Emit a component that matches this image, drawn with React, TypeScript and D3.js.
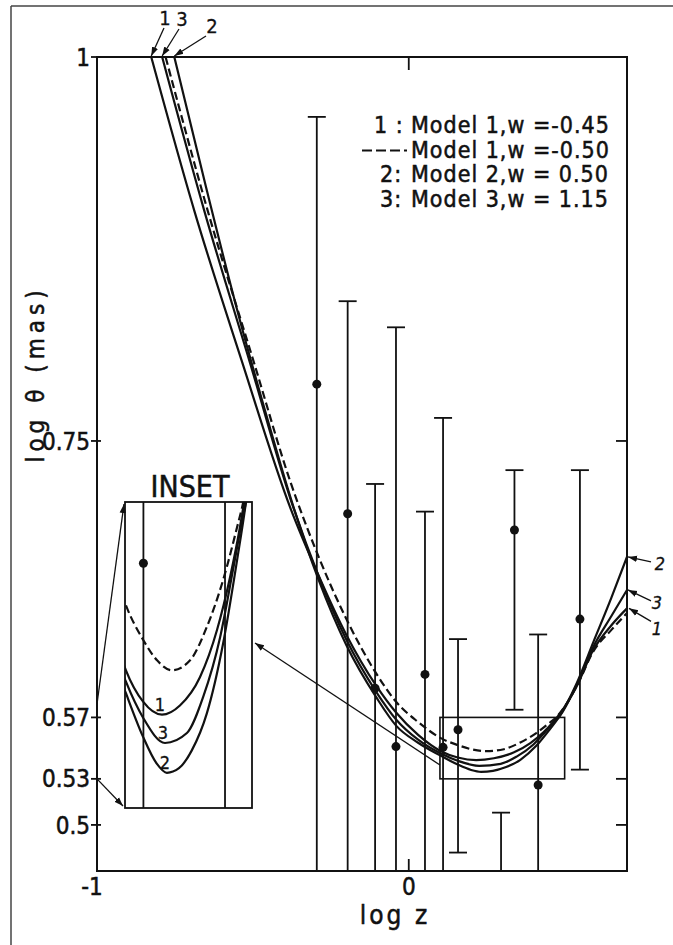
import * as d3 from 'd3';

// [log z, log theta]
const curveM1a = [ // 1: Model 1, w = -0.45
  [-0.826, 1.0], [-0.688, 0.9], [-0.537, 0.803], [-0.379, 0.706], [-0.29, 0.6628],
  [-0.2, 0.6237], [-0.104, 0.5905], [-0.04, 0.573], [0.03, 0.5586], [0.103, 0.548],
  [0.157, 0.5439], [0.2165, 0.5422], [0.273, 0.5434], [0.336, 0.5471], [0.39, 0.5533],
  [0.431, 0.5602], [0.462, 0.5667], [0.475, 0.5699], [0.538, 0.59], [0.592, 0.614],
  [0.65, 0.63], [0.7, 0.641],
];
const curveM1b = [ // dashed: Model 1, w = -0.50
  [-0.78, 1.0], [-0.645, 0.9], [-0.495, 0.8], [-0.379, 0.723], [-0.29, 0.675],
  [-0.2, 0.634], [-0.104, 0.5985], [-0.04, 0.58], [0.03, 0.567], [0.103, 0.5565],
  [0.157, 0.552], [0.201, 0.5493], [0.248, 0.548], [0.305, 0.5493], [0.358, 0.5537],
  [0.409, 0.5598], [0.453, 0.5667], [0.472, 0.5699], [0.538, 0.59], [0.592, 0.613],
  [0.65, 0.627], [0.7, 0.638],
];
const curveM2 = [ // 2: Model 2, w = 0.50
  [-0.752, 1.0], [-0.65, 0.915], [-0.55, 0.835], [-0.45, 0.762], [-0.379, 0.713],
  [-0.29, 0.66], [-0.2, 0.617], [-0.104, 0.583], [-0.04, 0.5645], [0.03, 0.5535],
  [0.103, 0.545], [0.157, 0.5393], [0.2, 0.5358], [0.232, 0.5346], [0.27, 0.5352],
  [0.31, 0.5375], [0.358, 0.5424], [0.409, 0.5515], [0.453, 0.5624], [0.481, 0.57],
  [0.538, 0.592], [0.592, 0.619], [0.65, 0.648], [0.7, 0.6745],
];
const curveM3 = [ // 3: Model 3, w = 1.15
  [-0.791, 1.0], [-0.656, 0.9], [-0.508, 0.8], [-0.379, 0.712], [-0.29, 0.6625],
  [-0.2, 0.6205], [-0.104, 0.5865], [-0.04, 0.5685], [0.03, 0.5555], [0.103, 0.5465],
  [0.157, 0.5418], [0.226, 0.5385], [0.295, 0.5398], [0.346, 0.5445], [0.4, 0.5524],
  [0.44, 0.5611], [0.469, 0.5676], [0.481, 0.57], [0.538, 0.591], [0.592, 0.616],
  [0.65, 0.636], [0.7, 0.653],
];

// error bars (null = beyond the frame)
const barZ = [-0.295, -0.196, -0.108, -0.041, 0.052, 0.11, 0.158, 0.296, 0.339, 0.415, 0.549];
const barHi = [0.961, 0.841, 0.722, 0.824, 0.704, 0.765, 0.621, 0.508, 0.731, 0.624, 0.731];
const barMid = [0.787, 0.7026, 0.589, 0.551, 0.598, 0.5505, 0.562, null, 0.692, 0.526, 0.634];
const barLo = [null, null, null, null, null, null, 0.482, null, 0.575, null, 0.536];

const yTicks = [1, 0.75, 0.57, 0.53, 0.5];
const yTickLabels = ['1', '0.75', '0.57', '0.53', '0.5'];
const rightTicks = [0.75, 0.57, 0.53, 0.5];
const xTicks = [-1, 0];
const xTickLabels = ['-1', '0'];

const legendKeys = ['1 :', '', '2:', '3:'];
const legendLabels = ['Model 1,w =-0.45', 'Model 1,w =-0.50', 'Model 2,w = 0.50', 'Model 3,w = 1.15'];

const FONT = "'DejaVu Sans Condensed', 'DejaVu Sans', sans-serif";
const INK = '#111';

export default function App() {
  const x = d3.scaleLinear().domain([-1, 0.7]).range([97, 627]);
  const y = d3.scaleLinear().domain([0.47, 1]).range([871, 57]);
  const [x0, x1] = x.range();
  const [y0, y1] = y.range();

  // inset: zoom of the box [0.10, 0.50] x [0.53, 0.57]
  const insetZ = [0.1, 0.5];
  const insetV = [0.53, 0.57];
  const ix = d3.scaleLinear().domain(insetZ).range([125, 252]);
  const iy = d3.scaleLinear().domain(insetV).range([808, 502]);

  const line = d3.line<number[]>().x(d => x(d[0])).y(d => y(d[1])).curve(d3.curveMonotoneX);
  const iline = d3.line<number[]>().x(d => ix(d[0])).y(d => iy(d[1])).curve(d3.curveMonotoneX);

  const series = [
    { data: curveM1a, dash: undefined },
    { data: curveM3, dash: undefined },
    { data: curveM2, dash: undefined },
    { data: curveM1b, dash: '8 4' },
  ];

  const minOf = (d: number[][]) => d.reduce((a, b) => (b[1] < a[1] ? b : a));
  const insetLabels = [
    { t: '1', p: minOf(curveM1a) },
    { t: '3', p: minOf(curveM3) },
    { t: '2', p: minOf(curveM2) },
  ];

  const cap = 9;
  const endY = (d: number[][]) => y(d[d.length - 1][1]);
  const txt = { stroke: INK, strokeWidth: 0.5, fontStretch: 'condensed' as const };

  return (
    <svg width={673} height={945} style={{ position: 'absolute', left: 0, top: 0, background: '#fff' }}
      fontFamily={FONT} fill={INK}>
      <defs>
        <clipPath id="plotClip"><rect x={x0} y={y1} width={x1 - x0} height={y0 - y1} /></clipPath>
        <clipPath id="insetClip"><rect x={125} y={502} width={127} height={306} /></clipPath>
        <marker id="arr" viewBox="0 0 10 10" refX="10" refY="5" markerWidth="7" markerHeight="7" orient="auto">
          <path d="M0,1.5 L10,5 L0,8.5 z" fill={INK} />
        </marker>
      </defs>

      {/* scan border */}
      <line x1={11} y1={6} x2={673} y2={6} stroke="#444" strokeWidth={1.5} />
      <line x1={11} y1={6} x2={11} y2={945} stroke="#444" strokeWidth={1.5} />

      {/* error bars */}
      <g stroke={INK} strokeWidth={1.8} clipPath="url(#plotClip)">
        {barZ.map((z, i) => {
          const bx = x(z);
          const top = y(barHi[i]);
          const lo = barLo[i];
          const bot = lo == null ? y0 + 2 : y(lo);
          const mid = barMid[i];
          return (
            <g key={i}>
              <line x1={bx} y1={top} x2={bx} y2={bot} />
              <line x1={bx - cap} y1={top} x2={bx + cap} y2={top} />
              {lo != null && <line x1={bx - cap} y1={bot} x2={bx + cap} y2={bot} />}
              {mid != null && <circle cx={bx} cy={y(mid)} r={4.5} fill={INK} stroke="none" />}
            </g>
          );
        })}
      </g>

      {/* model curves */}
      <g clipPath="url(#plotClip)" fill="none" stroke={INK} strokeWidth={2.2}>
        {series.map((s, i) => (
          <path key={i} d={line(s.data) || ''} strokeDasharray={s.dash} />
        ))}
      </g>

      {/* frame */}
      <rect x={x0} y={y1} width={x1 - x0} height={y0 - y1} fill="none" stroke={INK} strokeWidth={2} />
      {yTicks.map((v, i) => (
        <g key={i}>
          <line x1={x0 - 6} y1={y(v)} x2={x0 + 4} y2={y(v)} stroke={INK} strokeWidth={1.8} />
          <text x={x0 - 7} y={y(v)} dy="0.36em" textAnchor="end" fontSize={24} {...txt}>
            {yTickLabels[i]}
          </text>
        </g>
      ))}
      {rightTicks.map((v, i) => (
        <line key={i} x1={x1 - 11} y1={y(v)} x2={x1} y2={y(v)} stroke={INK} strokeWidth={1.8} />
      ))}
      {xTicks.map((v, i) => (
        <g key={i}>
          {v > -1 && <line x1={x(v)} y1={y0} x2={x(v)} y2={y0 - 12} stroke={INK} strokeWidth={1.8} />}
          {v > -1 && <line x1={x(v)} y1={y1} x2={x(v)} y2={y1 + 13} stroke={INK} strokeWidth={1.8} />}
          <text x={x(v) + (v === -1 ? -5 : 0)} y={895} textAnchor="middle" fontSize={24} {...txt}>
            {xTickLabels[i]}
          </text>
        </g>
      ))}
      <text x={395} y={924} textAnchor="middle" fontSize={26} letterSpacing={3} {...txt}>log z</text>
      <text transform="translate(44,374) rotate(-90)" textAnchor="middle" fontSize={24} letterSpacing={5}
        {...txt}>log θ (mas)</text>

      {/* zoom box in main panel */}
      <rect x={x(insetZ[0])} y={y(insetV[1])} width={x(insetZ[1]) - x(insetZ[0])}
        height={y(insetV[0]) - y(insetV[1])} fill="none" stroke={INK} strokeWidth={1.6} />

      {/* legend */}
      <line x1={362} x2={407} y1={150.5} y2={150.5} stroke={INK} strokeWidth={2.2} strokeDasharray="10 4" />
      <text fontSize={23} letterSpacing={1} {...txt}>
        {legendLabels.map((t, i) => [
          legendKeys[i]
            ? <tspan key={'k' + i} x={i === 0 ? 374 : 380} y={133 + i * 24.5}>{legendKeys[i]}</tspan>
            : null,
          <tspan key={'t' + i} x={411} y={133 + i * 24.5}>{t}</tspan>,
        ])}
      </text>

      {/* curve tags at top */}
      <g fontSize={20} {...txt} strokeWidth={0.3}>
        <text x={165} y={25} textAnchor="middle">1</text>
        <text x={182} y={26} textAnchor="middle">3</text>
        <text x={212} y={33} textAnchor="middle">2</text>
      </g>
      <g stroke={INK} strokeWidth={1.3}>
        <line x1={164} y1={28} x2={x(curveM1a[0][0])} y2={y1 - 1} markerEnd="url(#arr)" />
        <line x1={179} y1={29} x2={x(curveM3[0][0])} y2={y1 - 1} markerEnd="url(#arr)" />
        <line x1={206} y1={36} x2={x(curveM2[0][0])} y2={y1 - 1} markerEnd="url(#arr)" />
      </g>

      {/* curve tags at right */}
      <g fontSize={18} fontStyle="italic" {...txt} strokeWidth={0.3}>
        <text x={660} y={endY(curveM2) + 13} textAnchor="middle">2</text>
        <text x={657} y={endY(curveM3) + 19} textAnchor="middle">3</text>
        <text x={657} y={endY(curveM1a) + 27} textAnchor="middle">1</text>
      </g>
      <g stroke={INK} strokeWidth={1.3}>
        <line x1={651} y1={endY(curveM2) + 5} x2={x1 + 1} y2={endY(curveM2)} markerEnd="url(#arr)" />
        <line x1={651} y1={endY(curveM3) + 11} x2={x1 + 1} y2={endY(curveM3)} markerEnd="url(#arr)" />
        <line x1={651} y1={endY(curveM1a) + 13} x2={x1 + 2} y2={endY(curveM1a)} markerEnd="url(#arr)" />
      </g>

      {/* inset */}
      <rect x={125} y={502} width={127} height={306} fill="#fff" />
      <g clipPath="url(#insetClip)">
        <g stroke={INK} strokeWidth={1.8}>
          {barZ.map((z, i) => {
            if (z <= insetZ[0] + 0.01 || z >= insetZ[1]) return null;
            const hi = Math.min(barHi[i], insetV[1]);
            const lo = Math.max(barLo[i] == null ? 0 : (barLo[i] as number), insetV[0]);
            if (hi <= lo) return null;
            const mid = barMid[i];
            return (
              <g key={i}>
                <line x1={ix(z)} x2={ix(z)} y1={iy(hi)} y2={iy(lo)} />
                {mid != null && mid > insetV[0] && mid < insetV[1] &&
                  <circle cx={ix(z)} cy={iy(mid)} r={4.5} fill={INK} stroke="none" />}
              </g>
            );
          })}
        </g>
        <g fill="none" stroke={INK} strokeWidth={2.2}>
          {series.map((s, i) => (
            <path key={i} d={iline(s.data) || ''} strokeDasharray={s.dash} />
          ))}
        </g>
      </g>
      <rect x={125} y={502} width={127} height={306} fill="none" stroke={INK} strokeWidth={1.8} />
      <text x={190} y={497} textAnchor="middle" fontSize={30} {...txt}>INSET</text>
      <g fontSize={18} textAnchor="middle" {...txt} strokeWidth={0.3}>
        {insetLabels.map((l, i) => (
          <text key={i} x={ix(l.p[0]) - 2} y={iy(l.p[1]) - 4}>{l.t}</text>
        ))}
      </g>

      {/* arrows linking the inset */}
      <g stroke={INK} strokeWidth={1.3}>
        <line x1={x0} y1={704} x2={124} y2={504} markerEnd="url(#arr)" />
        <line x1={x0} y1={y(0.53)} x2={123} y2={806} markerEnd="url(#arr)" />
        <line x1={x(insetZ[0])} y1={765} x2={255} y2={643} markerEnd="url(#arr)" />
      </g>
    </svg>
  );
}
